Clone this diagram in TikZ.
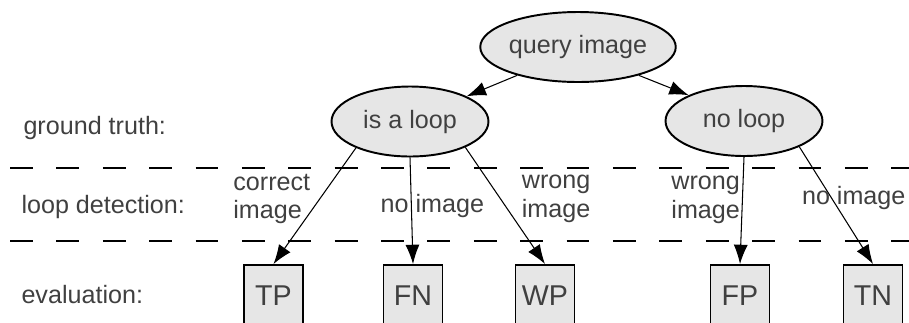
\documentclass[tikz,border=0pt]{standalone}
\usepackage{fontspec}
\setmainfont{Liberation Sans}
\usepackage{tikz}
\usetikzlibrary{positioning,shapes.geometric,arrows.meta}
\definecolor{nodefill}{HTML}{E6E6E6}
\definecolor{textgray}{HTML}{404040}
\tikzset{>={Latex[length=11pt,width=8pt]}}
\tikzset{
    txt/.style={font=\fontsize{14.3pt}{16.5pt}\selectfont, text=textgray},
    case/.style={txt, ellipse, draw, line width=1.1pt, fill=nodefill,
        minimum width=3.14cm, minimum height=1.4cm, inner sep=0pt},
    result/.style={rectangle, draw, line width=1.1pt, fill=nodefill,
        font=\fontsize{16.3pt}{19pt}\selectfont, text=textgray,
        minimum width=1.18cm, minimum height=1.24cm, inner sep=0pt},
    lbl/.style={txt, inner sep=0pt, align=left},
    divider/.style={line width=0.6pt, dash pattern=on 13pt off 13.4pt}
}

\begin{document}
\begin{tikzpicture}[x=0.02cm, y=-0.02cm, line width=0.6pt]
    \useasboundingbox (0,0) rectangle (909,322);
    % rows
    \node[lbl, anchor=west] (gt) at (23,128) {ground truth:};
    \node[lbl, anchor=west] (ld) at (21,207) {loop detection:};
    \node[lbl, anchor=west] (ev) at (21,295) {evaluation:};
    \draw[divider] (10,168) -- (909,168);
    \draw[divider] (10,241) -- (909,241);
    % set up the nodes
    \node[case] (Q) at (578,47) {query image};
    \node[case] (L) at (410,121.5) {is a loop};
    \node[case] (N) at (744,121) {no loop};
    \node[result] (TP) at (273.5,296) {TP};
    \node[result] (FN) at (413,296) {FN};
    \node[result] (WP) at (545,296) {WP};
    \node[result] (FP) at (740,296) {FP};
    \node[result] (TN) at (873,296) {TN};
    % draw arrows and text between them
    \draw[->] (Q.205) -- (L.24);
    \draw[->] (Q.-25) -- (N.155);
    \draw[->] (L.206) -- (TP.north) node [pos=.44, lbl, anchor=east, xshift=-0.18cm] {correct\\image};
    \draw[->] (L.south) -- (FN.north) node [pos=.46, lbl, xshift=0.42cm] {no image};
    \draw[->] (L.-25) -- (WP.north) node [pos=.44, lbl, anchor=west, xshift=0.42cm] {wrong\\image};
    \draw[->] (N.south) -- (FP.north) node [pos=.4, lbl, anchor=east, xshift=-0.04cm] {wrong\\image};
    \draw[->] (N.-25) -- (TN.north) node [pos=.44, lbl, xshift=0.44cm] {no image};
\end{tikzpicture}
\end{document}
